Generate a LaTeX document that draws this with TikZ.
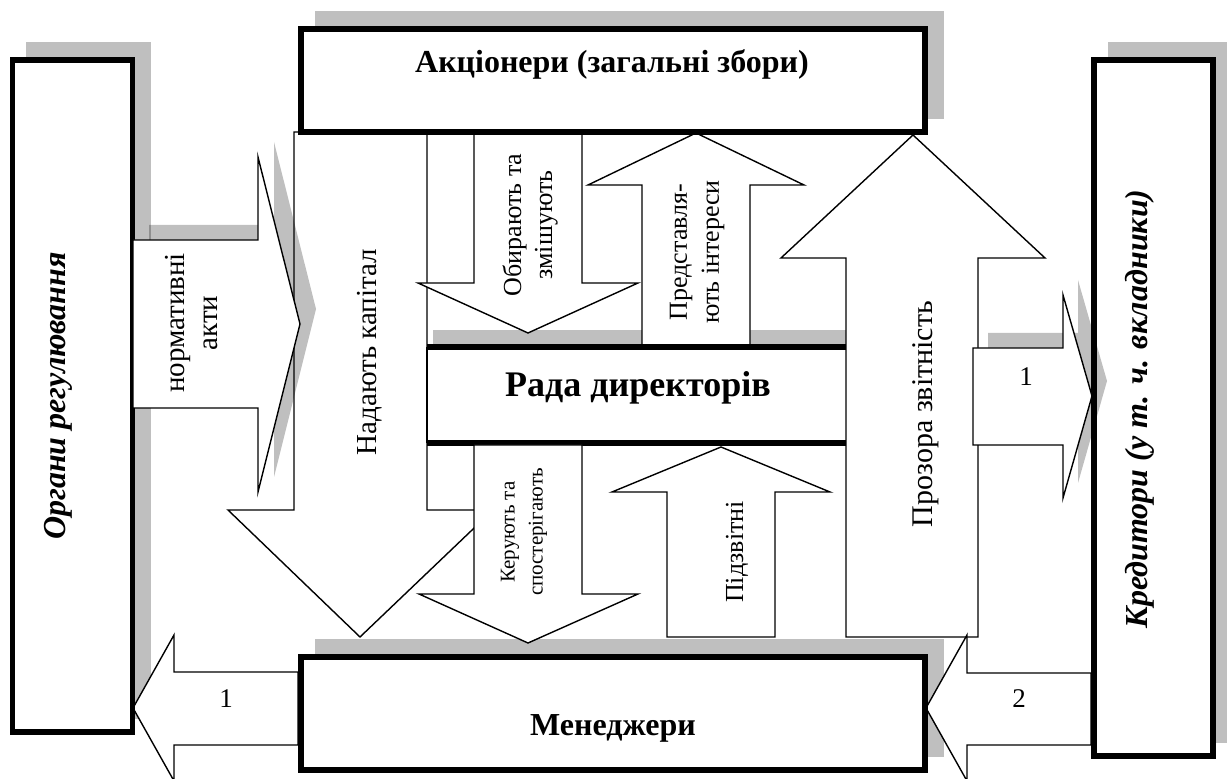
\documentclass[tikz,border=0pt]{standalone}
\usepackage{fontspec}
\setmainfont{Liberation Serif}

\begin{document}
\begin{tikzpicture}[x=0.5pt, y=-0.5pt,
  shade/.style={fill=black!25, draw=none},
  glass/.style={fill=black, fill opacity=0.25, draw=none},
  heavy/.style={draw=black, line width=2.8pt, fill=white},
  blockarrow/.style={draw=black, line width=0.7pt, fill=white, line join=miter},
  rot/.style={rotate=90, align=center, inner sep=0pt},
  flat/.style={align=center, inner sep=0pt}]

\useasboundingbox (0,0) rectangle (1227,779);

\coordinate (org1) at (12.5,60);   \coordinate (org2) at (132.5,732);
\coordinate (akc1) at (301,29);    \coordinate (akc2) at (925,132);
\coordinate (kre1) at (1094,60);   \coordinate (kre2) at (1213,756);
\coordinate (men1) at (301,657);   \coordinate (men2) at (925,770);

\foreach \b in {org,akc,kre,men}
    \fill [shade] ([shift={(13.5,-17.5)}]\b1) rectangle ([shift={(18.5,-12.5)}]\b2);
\fill [shade] (433,330) rectangle (862,427);

\draw [blockarrow] (294,132) -- (427,132) -- (427,510) -- (493,510) -- (360,637)
    -- (228,510) -- (294,510) -- cycle;
\draw [blockarrow] (474,133) -- (582,133) -- (582,283) -- (638,283) -- (528,333)
    -- (418,283) -- (474,283) -- cycle;
\draw [blockarrow] (642,347) -- (642,185) -- (588,185) -- (696,133) -- (804,185)
    -- (750,185) -- (750,347) -- cycle;

\fill [white] (427,347) rectangle (846,443);
\draw [line width=0.7pt] (427,347) -- (427,443);
\draw [line width=2.6pt] (427,347) -- (846,347) (427,443) -- (846,443);

\draw [blockarrow] (474,445) -- (582,445) -- (582,594) -- (638,594) -- (528,643)
    -- (419,594) -- (474,594) -- cycle;
\draw [blockarrow] (667,637) -- (667,492) -- (612,492) -- (721,447) -- (830,492)
    -- (775,492) -- (775,637) -- cycle;
\draw [blockarrow] (846,637) -- (846,258) -- (781,258) -- (913,135) -- (1045,258)
    -- (978,258) -- (978,637) -- cycle;
\draw [blockarrow] (298,672) -- (174,672) -- (174,635) -- (133,708) -- (174,781)
    -- (174,745) -- (298,745) -- cycle;
\draw [blockarrow] (1091,673) -- (967,673) -- (967,635) -- (926,708) -- (967,781)
    -- (967,745) -- (1091,745) -- cycle;

\foreach \b in {org,akc,kre,men}
    \draw [heavy] (\b1) rectangle (\b2);

\begin{scope}[shift={(16,-15)}]
\fill [glass] (133,240) -- (258,240) -- (258,157) -- (300,324) -- (258,492)
    -- (258,408) -- (133,408) -- cycle;
\end{scope}
\draw [blockarrow] (133,240) -- (258,240) -- (258,157) -- (300,324) -- (258,492)
    -- (258,408) -- (133,408) -- cycle;

\begin{scope}[shift={(15,-15)}]
\fill [glass] (973,348) -- (1063,348) -- (1063,295) -- (1092,396) -- (1063,498)
    -- (1063,445) -- (973,445) -- cycle;
\end{scope}
\draw [blockarrow] (973,348) -- (1063,348) -- (1063,295) -- (1092,396) -- (1063,498)
    -- (1063,445) -- (973,445) -- cycle;

\node [flat, font=\fontsize{16}{19}\selectfont\bfseries] (akcionery) at (612,64)
    {Акціонери (загальні збори)};
\node [flat, font=\fontsize{18}{21}\selectfont\bfseries] (rada) at (638,388)
    {Рада директорів};
\node [flat, font=\fontsize{16}{19}\selectfont\bfseries] (menedzhery) at (613,728)
    {Менеджери};
\node [rot, font=\fontsize{16}{19}\selectfont\bfseries\itshape] (organy) at (58,396)
    {Органи регулювання};
\node [rot, font=\fontsize{16}{19}\selectfont\bfseries\itshape] (kredytory) at (1140,409)
    {Кредитори (у т. ч. вкладники)};

\node [rot, font=\fontsize{14.5}{16.5}\selectfont] (normaktu) at (192,323)
    {нормативні\\акти};
\node [rot, font=\fontsize{14.5}{16.5}\selectfont] (kapital) at (370,352)
    {Надають капітал};
\node [rot, font=\fontsize{13}{15.5}\selectfont] (obyrajut) at (530,225)
    {Обирають та\\змішують};
\node [rot, font=\fontsize{13}{16}\selectfont] (interesy) at (697,252)
    {Представля-\\ють інтереси};
\node [rot, font=\fontsize{10.5}{14}\selectfont] (kerujut) at (524,532)
    {Керують та\\спостерігають};
\node [rot, font=\fontsize{13}{16}\selectfont] (pidzvitni) at (737,552)
    {Підзвітні};
\node [rot, font=\fontsize{15}{18}\selectfont] (prozora) at (926,414)
    {Прозора звітність};

\node [flat, font=\fontsize{13.5}{16}\selectfont] (odyn) at (1026,377) {1};
\node [flat, font=\fontsize{13.5}{16}\selectfont] (odynlivo) at (226,699) {1};
\node [flat, font=\fontsize{13.5}{16}\selectfont] (dva) at (1019,699) {2};

\end{tikzpicture}
\end{document}
